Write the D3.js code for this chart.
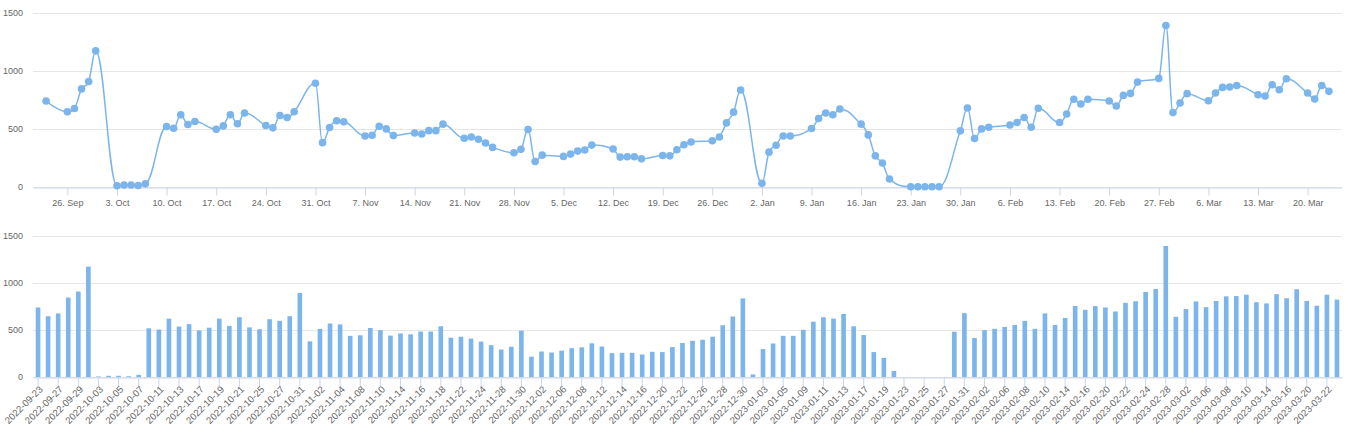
<!DOCTYPE html>
<html>
<head>
<meta charset="utf-8">
<script src="https://cdn.jsdelivr.net/npm/d3@7"></script>
<style>
  html, body { margin: 0; padding: 0; background: #fff; }
  svg { display: block; font-family: "Liberation Sans", Arial, sans-serif; }
</style>
</head>
<body>
<svg id="chart" width="1349" height="440"></svg>
<script>
// ---------- DATA ----------
const categories = [
  "2022-09-23",
  "2022-09-26","2022-09-27","2022-09-28","2022-09-29","2022-09-30",
  "2022-10-03","2022-10-04","2022-10-05","2022-10-06","2022-10-07",
  "2022-10-10","2022-10-11","2022-10-12","2022-10-13","2022-10-14",
  "2022-10-17","2022-10-18","2022-10-19","2022-10-20","2022-10-21",
  "2022-10-24","2022-10-25","2022-10-26","2022-10-27","2022-10-28",
  "2022-10-31","2022-11-01","2022-11-02","2022-11-03","2022-11-04",
  "2022-11-07","2022-11-08","2022-11-09","2022-11-10","2022-11-11",
  "2022-11-14","2022-11-15","2022-11-16","2022-11-17","2022-11-18",
  "2022-11-21","2022-11-22","2022-11-23","2022-11-24","2022-11-25",
  "2022-11-28","2022-11-29","2022-11-30","2022-12-01","2022-12-02",
  "2022-12-05","2022-12-06","2022-12-07","2022-12-08","2022-12-09",
  "2022-12-12","2022-12-13","2022-12-14","2022-12-15","2022-12-16",
  "2022-12-19","2022-12-20","2022-12-21","2022-12-22","2022-12-23",
  "2022-12-26","2022-12-27","2022-12-28","2022-12-29","2022-12-30",
  "2023-01-02","2023-01-03","2023-01-04","2023-01-05","2023-01-06",
  "2023-01-09","2023-01-10","2023-01-11","2023-01-12","2023-01-13",
  "2023-01-16","2023-01-17","2023-01-18","2023-01-19","2023-01-20",
  "2023-01-23","2023-01-24","2023-01-25","2023-01-26","2023-01-27",
  "2023-01-30","2023-01-31","2023-02-01","2023-02-02","2023-02-03",
  "2023-02-06","2023-02-07","2023-02-08","2023-02-09","2023-02-10",
  "2023-02-13","2023-02-14","2023-02-15","2023-02-16","2023-02-17",
  "2023-02-20","2023-02-21","2023-02-22","2023-02-23","2023-02-24",
  "2023-02-27","2023-02-28","2023-03-01","2023-03-02","2023-03-03",
  "2023-03-06","2023-03-07","2023-03-08","2023-03-09","2023-03-10",
  "2023-03-13","2023-03-14","2023-03-15","2023-03-16","2023-03-17",
  "2023-03-20","2023-03-21","2023-03-22","2023-03-23"
];

const values = [
  741,
  648, 677, 846, 910, 1175,
  8, 15, 15, 10, 25,
  520, 506, 622, 538, 564,
  497, 526, 622, 544, 637,
  529, 509, 616, 599, 648,
  895, 381, 512, 570, 561,
  439, 445, 523, 500, 442,
  465, 456, 485, 485, 541,
  419, 430, 410, 378, 340,
  294, 323, 494, 218, 273,
  262, 282, 308, 317, 360,
  326, 256, 259, 259, 241,
  270, 267, 320, 363, 387,
  398, 430, 552, 645, 837,
  29, 299, 358, 439, 439,
  503, 590, 637, 622, 672,
  541, 448, 267, 205, 66,
  0, 0, 0, 0, 0,
  483, 681, 417, 500, 514,
  534, 555, 598, 514, 678,
  555, 629, 756, 716, 756,
  741, 698, 790, 807, 905,
  937, 1394, 641, 724, 805,
  744, 810, 859, 862, 876,
  796, 784, 882, 839, 934,
  810, 759, 876, 825
];

const yTicks = [0, 500, 1000, 1500];

(function () {
// ---------- STYLE ----------
const COLOR = "#7cb5ec";
const GRID = "#e6e6e6";
const AXIS = "#ccd6eb";
const LABEL = "#666666";
const FONT_SIZE = "9px";

const svg = d3.select("#chart");
const parse = d3.utcParse("%Y-%m-%d");
const dates = categories.map(parse);
const DAY = 864e5;

const left = 33, right = 1342;

// ---------- TOP: spline over datetime ----------
const topP = { y0: 186.7, y1: 13.3 };
const xTime = d3.scaleUtc()
  .domain([new Date(+dates[0] - 1.85 * DAY), new Date(+dates[dates.length - 1] + 1.85 * DAY)])
  .range([left, right]);
const yTop = d3.scaleLinear().domain([0, 1500]).range([topP.y0, topP.y1]);

const gTop = svg.append("g");
gTop.selectAll("line.grid").data(yTicks).join("line")
  .attr("x1", left).attr("x2", right)
  .attr("y1", d => Math.round(yTop(d)) + 0.5).attr("y2", d => Math.round(yTop(d)) + 0.5)
  .attr("stroke", GRID).attr("stroke-width", 1);
gTop.selectAll("text.yl").data(yTicks).join("text")
  .attr("x", 23).attr("y", d => yTop(d)).attr("dy", "0.35em")
  .attr("text-anchor", "end").attr("fill", LABEL).style("font-size", FONT_SIZE)
  .text(d => d);
const xAxisTop = d3.axisBottom(xTime)
  .ticks(d3.utcMonday.every(1))
  .tickFormat(d3.utcFormat("%-d. %b"))
  .tickSizeOuter(0).tickSizeInner(8).tickPadding(4);
const gxTop = gTop.append("g")
  .attr("transform", `translate(0,${Math.round(topP.y0) + 0.5})`)
  .call(xAxisTop);
gxTop.select(".domain").attr("stroke", AXIS);
gxTop.selectAll(".tick line").attr("stroke", AXIS);
gxTop.selectAll(".tick text").attr("fill", LABEL).style("font-size", FONT_SIZE)
  .style("font-family", "Liberation Sans, Arial, sans-serif");

// Highcharts-style spline path
const pts = dates.map((d, i) => ({ x: xTime(d), y: yTop(values[i]) }));
function splinePath(points) {
  const p = d3.path();
  const smoothing = 1.5, denom = smoothing + 1;
  let lastRight = null;
  points.forEach((pt, i) => {
    if (i === 0) { p.moveTo(pt.x, pt.y); return; }
    const last = points[i - 1], next = points[i + 1];
    let lcx = pt.x, lcy = pt.y, rc = null;
    if (next) {
      let leftContX = (smoothing * pt.x + last.x) / denom;
      let leftContY = (smoothing * pt.y + last.y) / denom;
      let rightContX = (smoothing * pt.x + next.x) / denom;
      let rightContY = (smoothing * pt.y + next.y) / denom;
      let correction = 0;
      if (rightContX !== leftContX) {
        correction = ((rightContY - leftContY) * (rightContX - pt.x)) / (rightContX - leftContX) + pt.y - rightContY;
      }
      leftContY += correction; rightContY += correction;
      if (leftContY > last.y && leftContY > pt.y) {
        leftContY = Math.max(last.y, pt.y); rightContY = 2 * pt.y - leftContY;
      } else if (leftContY < last.y && leftContY < pt.y) {
        leftContY = Math.min(last.y, pt.y); rightContY = 2 * pt.y - leftContY;
      }
      if (rightContY > next.y && rightContY > pt.y) {
        rightContY = Math.max(next.y, pt.y); leftContY = 2 * pt.y - rightContY;
      } else if (rightContY < next.y && rightContY < pt.y) {
        rightContY = Math.min(next.y, pt.y); leftContY = 2 * pt.y - rightContY;
      }
      lcx = leftContX; lcy = leftContY;
      rc = [rightContX, rightContY];
    }
    const c1 = lastRight || [last.x, last.y];
    p.bezierCurveTo(c1[0], c1[1], lcx, lcy, pt.x, pt.y);
    lastRight = rc;
  });
  return p.toString();
}
gTop.append("path")
  .attr("d", splinePath(pts))
  .attr("fill", "none").attr("stroke", COLOR).attr("stroke-width", 1.5)
  .attr("stroke-linejoin", "round").attr("stroke-linecap", "round");
gTop.selectAll("circle").data(values).join("circle")
  .attr("cx", (d, i) => xTime(dates[i])).attr("cy", d => yTop(d))
  .attr("r", 3.8).attr("fill", COLOR);

// ---------- BOTTOM: columns over categories ----------
const bot = { y0: 377.2, y1: 236 };
const xBand = d3.scaleBand().domain(categories).range([left, right]).padding(0);
const yBot = d3.scaleLinear().domain([0, 1500]).range([bot.y0, bot.y1]);

const gBot = svg.append("g");
gBot.selectAll("line.grid").data(yTicks).join("line")
  .attr("x1", left).attr("x2", right)
  .attr("y1", d => Math.round(yBot(d)) + 0.5).attr("y2", d => Math.round(yBot(d)) + 0.5)
  .attr("stroke", GRID).attr("stroke-width", 1);
gBot.selectAll("text.yl").data(yTicks).join("text")
  .attr("x", 23).attr("y", d => yBot(d)).attr("dy", "0.35em")
  .attr("text-anchor", "end").attr("fill", LABEL).style("font-size", FONT_SIZE)
  .text(d => d);

const bw = xBand.bandwidth() * 0.46;
gBot.selectAll("rect").data(values).join("rect")
  .attr("x", (d, i) => xBand(categories[i]) + xBand.bandwidth() / 2 - bw / 2)
  .attr("width", bw)
  .attr("y", d => yBot(d))
  .attr("height", d => yBot(0) - yBot(d))
  .attr("fill", COLOR);

const xAxisBot = d3.axisBottom(xBand)
  .tickValues(categories.filter((d, i) => i % 2 === 0))
  .tickSizeOuter(0).tickSizeInner(9).tickPadding(3);
const gxBot = gBot.append("g")
  .attr("transform", `translate(0,${Math.round(bot.y0) + 0.5})`)
  .call(xAxisBot);
gxBot.select(".domain").attr("stroke", AXIS);
gxBot.selectAll(".tick line").attr("stroke", AXIS);
gxBot.selectAll(".tick text")
  .attr("fill", LABEL).style("font-size", "9.6px")
  .style("font-family", "Liberation Sans, Arial, sans-serif")
  .attr("text-anchor", "end")
  .attr("y", 0).attr("dy", "0.35em")
  .attr("transform", "translate(3,10) rotate(-45)");
})();
</script>
</body>
</html>
